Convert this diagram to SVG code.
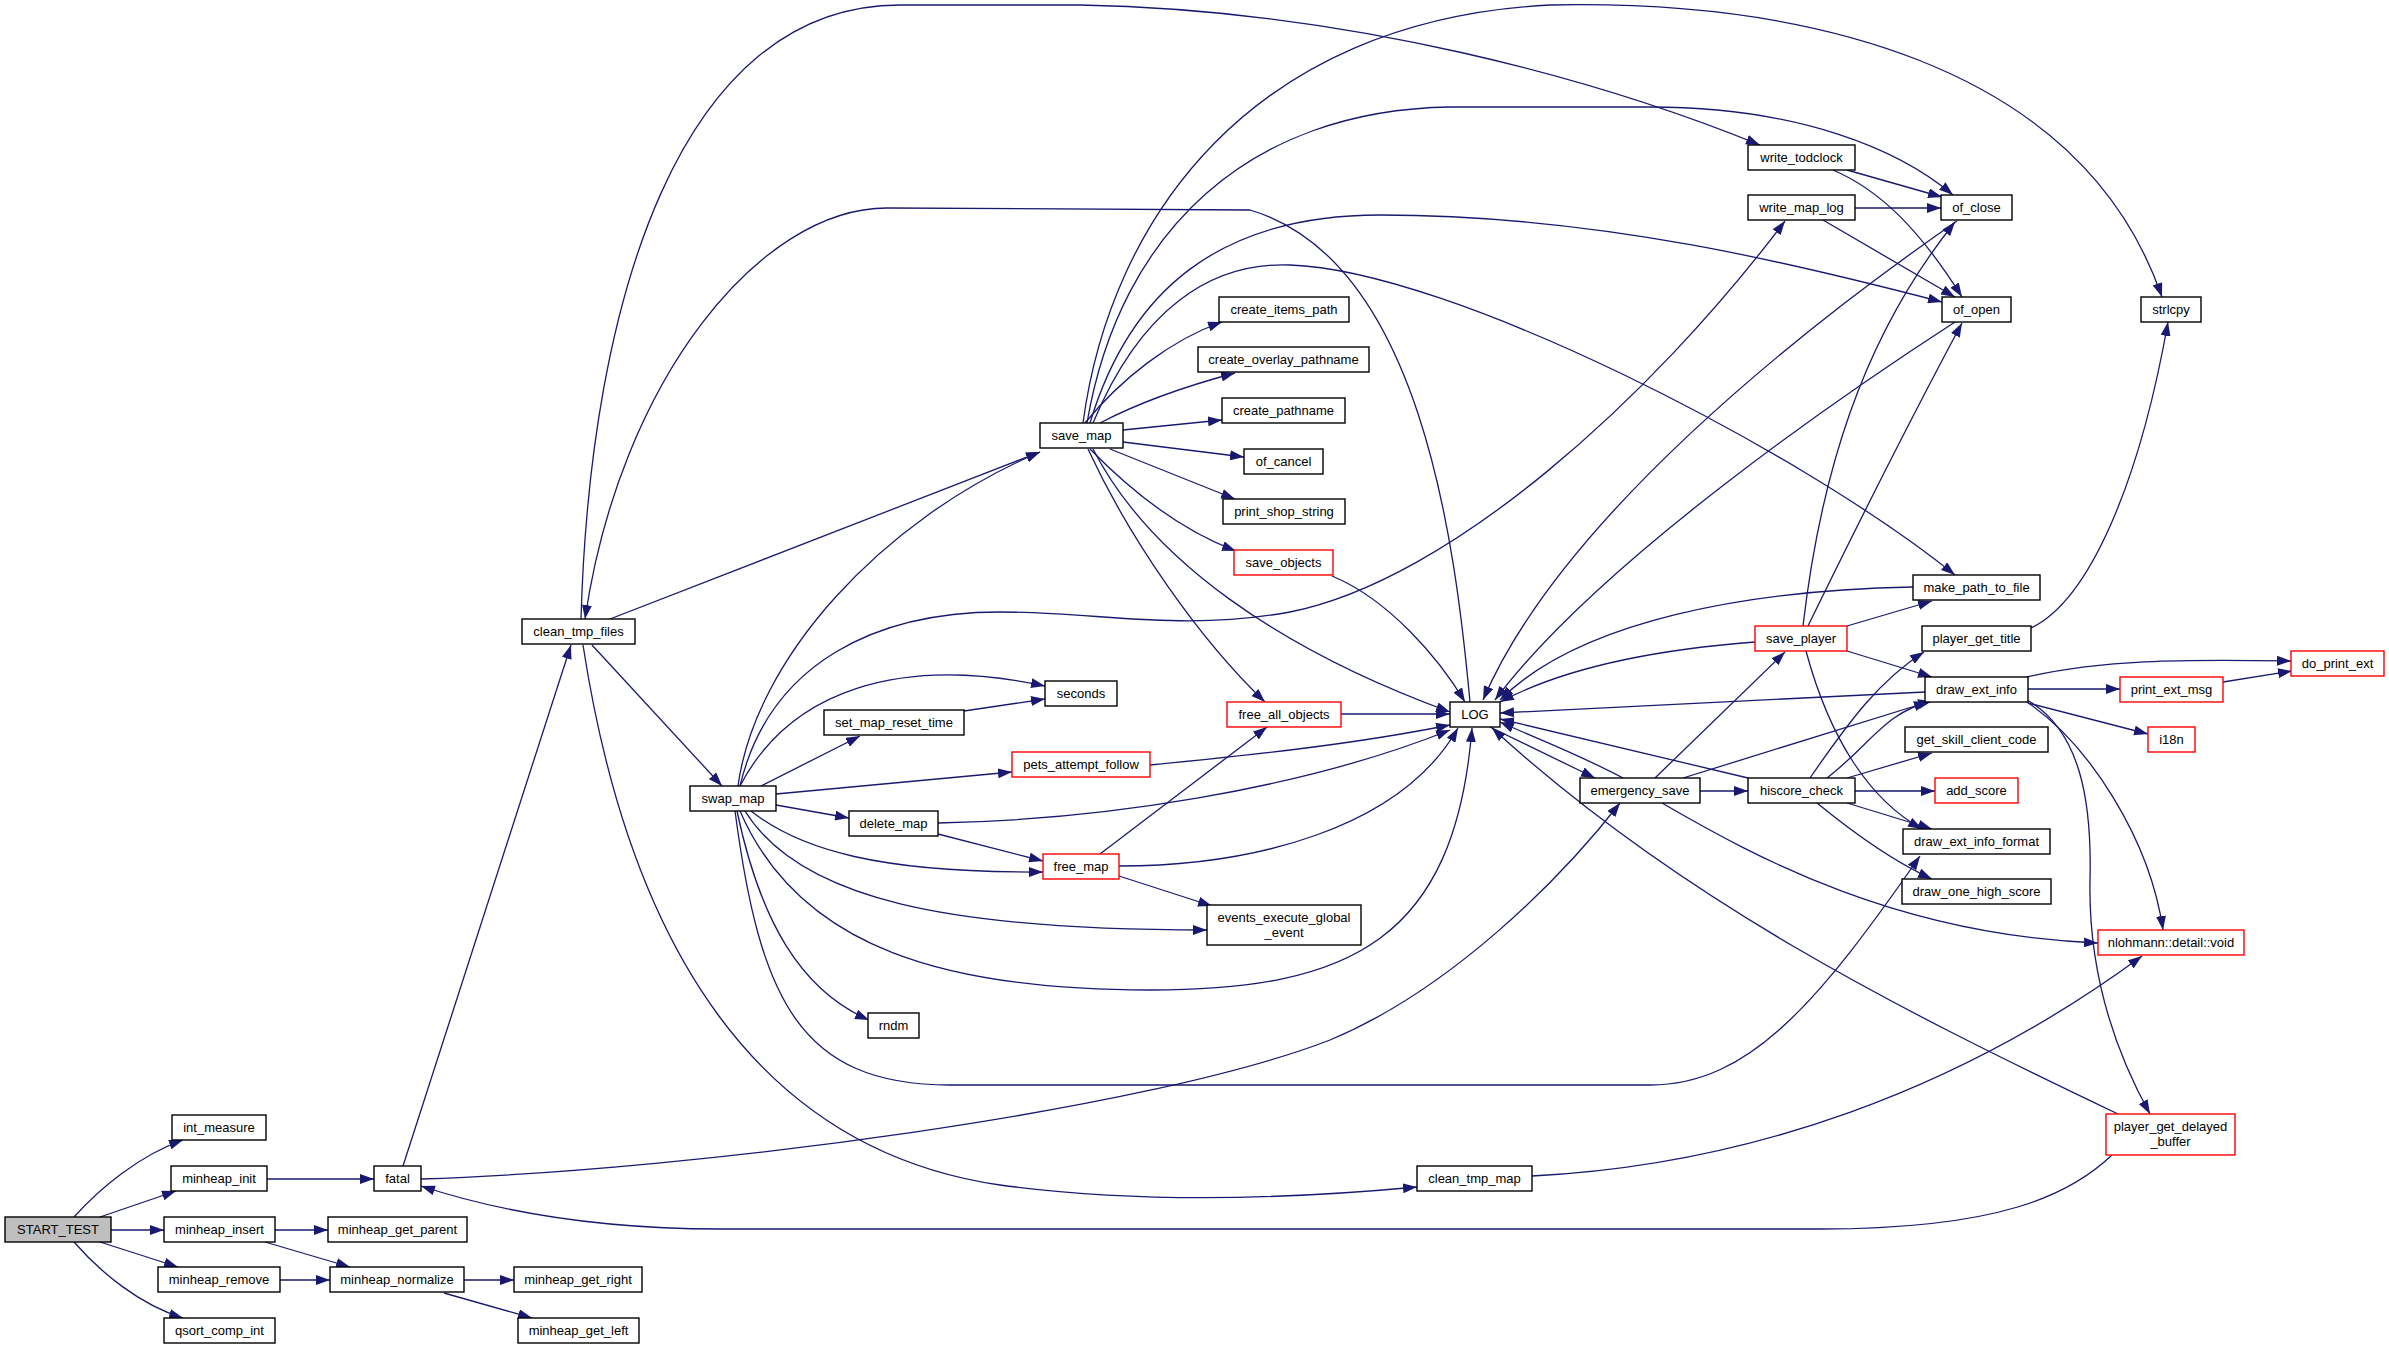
<svg xmlns="http://www.w3.org/2000/svg" width="2389" height="1349" viewBox="0 0 2389 1349">
<defs>
<marker id="ah" markerWidth="14" markerHeight="10" refX="14" refY="5" orient="auto" markerUnits="userSpaceOnUse"><path d="M0,0 L14,5 L0,10 z" fill="#191970"/></marker>
<style>
.e{fill:none;stroke:#191970;stroke-width:1.3;marker-end:url(#ah)}
.n rect{fill:#ffffff;stroke:#000000;stroke-width:1.4}
.r rect{fill:#ffffff;stroke:#ff0000;stroke-width:1.4}
.g rect{fill:#bfbfbf;stroke:#000000;stroke-width:1.4}
text{font-family:"Liberation Sans",Arial,Helvetica,sans-serif;font-size:13px;fill:#000000;text-anchor:middle}
</style>
</defs>
<rect x="0" y="0" width="2389" height="1349" fill="#ffffff"/>
<g id="edges">
<path class="e" d="M74,1217 C100,1188 140,1155 183,1140"/>
<path class="e" d="M100,1217 L176,1191"/>
<path class="e" d="M111,1230 L164,1230"/>
<path class="e" d="M100,1242 L178,1267"/>
<path class="e" d="M74,1242 C100,1272 140,1305 183,1318"/>
<path class="e" d="M267,1179 L374,1179"/>
<path class="e" d="M275,1230 L328,1230"/>
<path class="e" d="M265,1242 L350,1267"/>
<path class="e" d="M280,1280 L330,1280"/>
<path class="e" d="M464,1280 L514,1280"/>
<path class="e" d="M444,1293 L532,1318"/>
<path class="e" d="M403,1166 L571,645"/>
<path class="e" d="M421,1179 C700,1170 1150,1110 1330,1040 C1450,990 1560,880 1620,803"/>
<path class="e" d="M2112,1155 C2070,1195 2000,1229 1820,1229 L720,1229 C600,1229 500,1212 421,1186"/>
<path class="e" d="M2118,1114 C1900,1010 1680,900 1492,728"/>
<path class="e" d="M1532,1176 C1750,1165 1960,1090 2142,956"/>
<path class="e" d="M2027,700 C2080,730 2092,800 2090,880 C2088,980 2120,1060 2150,1114"/>
<path class="e" d="M2027,702 C2090,745 2150,840 2163,930"/>
<path class="e" d="M2028,703 L2148,734"/>
<path class="e" d="M2028,689 L2120,689"/>
<path class="e" d="M2027,677 C2100,660 2180,659 2291,661"/>
<path class="e" d="M2223,682 L2292,671"/>
<path class="e" d="M1925,692 C1800,697 1650,705 1500,713"/>
<path class="e" d="M2031,628 C2090,600 2140,480 2168,322"/>
<path class="e" d="M1083,423 C1110,220 1250,20 1550,5 C1800,0 2080,60 2162,297"/>
<path class="e" d="M1087,423 C1120,230 1250,110 1450,107 L1650,107 C1800,107 1900,150 1953,195"/>
<path class="e" d="M1090,423 C1130,290 1220,215 1380,215 C1600,215 1800,265 1942,302"/>
<path class="e" d="M1093,423 C1140,310 1210,262 1290,265 C1450,270 1800,450 1955,575"/>
<path class="e" d="M1470,702 C1455,540 1420,260 1250,210 L887,208 C760,208 620,380 585,619"/>
<path class="e" d="M581,619 C590,300 680,5 900,5 L1080,5 C1350,10 1600,80 1760,145"/>
<path class="e" d="M610,619 L1040,452"/>
<path class="e" d="M738,786 C755,660 880,520 1040,452"/>
<path class="e" d="M592,645 L722,786"/>
<path class="e" d="M583,645 C630,950 760,1150 1000,1185 C1150,1205 1300,1198 1417,1187"/>
<path class="e" d="M740,786 C770,660 880,612 1000,612 C1100,612 1180,632 1290,612 C1450,580 1650,400 1785,221"/>
<path class="e" d="M740,786 C790,690 900,655 1045,686"/>
<path class="e" d="M964,711 L1045,699"/>
<path class="e" d="M761,786 L860,736"/>
<path class="e" d="M776,794 L1012,772"/>
<path class="e" d="M776,805 L849,818"/>
<path class="e" d="M938,823 C1100,820 1300,790 1450,730"/>
<path class="e" d="M938,834 L1043,861"/>
<path class="e" d="M751,811 C800,850 880,873 1043,872"/>
<path class="e" d="M745,811 C800,900 950,930 1207,930"/>
<path class="e" d="M1119,876 L1212,906"/>
<path class="e" d="M740,811 C800,950 950,990 1150,990 C1350,990 1455,940 1472,728"/>
<path class="e" d="M737,811 C760,920 800,990 869,1020"/>
<path class="e" d="M735,811 C760,1000 800,1085 950,1085 L1650,1085 C1750,1085 1820,1000 1920,856"/>
<path class="e" d="M1085,423 C1120,380 1170,340 1222,322"/>
<path class="e" d="M1100,423 C1140,402 1190,385 1235,373"/>
<path class="e" d="M1123,430 L1222,420"/>
<path class="e" d="M1123,442 L1244,457"/>
<path class="e" d="M1110,449 L1235,499"/>
<path class="e" d="M1090,449 C1130,490 1180,530 1236,551"/>
<path class="e" d="M1088,449 C1130,540 1200,640 1265,702"/>
<path class="e" d="M1093,449 C1150,560 1280,650 1450,712"/>
<path class="e" d="M1332,576 C1390,600 1440,660 1465,702"/>
<path class="e" d="M1341,714 L1450,714"/>
<path class="e" d="M1100,854 L1267,727"/>
<path class="e" d="M1119,866 C1250,866 1400,830 1458,728"/>
<path class="e" d="M1150,765 C1250,755 1350,745 1450,725"/>
<path class="e" d="M1490,727 L1595,778"/>
<path class="e" d="M1623,778 C1580,755 1540,740 1500,722"/>
<path class="e" d="M1655,778 L1785,652"/>
<path class="e" d="M1700,791 L1748,791"/>
<path class="e" d="M1683,778 L1928,702"/>
<path class="e" d="M1662,803 C1760,860 1900,935 2098,943"/>
<path class="e" d="M1748,778 L1500,719"/>
<path class="e" d="M1810,778 C1850,720 1880,680 1924,652"/>
<path class="e" d="M1827,778 C1870,745 1885,712 1932,701"/>
<path class="e" d="M1847,778 L1932,753"/>
<path class="e" d="M1855,791 L1935,791"/>
<path class="e" d="M1847,803 L1932,829"/>
<path class="e" d="M1817,803 C1850,830 1890,860 1932,879"/>
<path class="e" d="M1847,626 L1932,601"/>
<path class="e" d="M1847,651 L1932,677"/>
<path class="e" d="M1755,642 C1650,650 1560,670 1500,702"/>
<path class="e" d="M1913,587 C1750,590 1580,620 1500,700"/>
<path class="e" d="M1803,626 C1820,480 1860,340 1955,222"/>
<path class="e" d="M1808,626 C1850,540 1910,420 1962,323"/>
<path class="e" d="M1806,651 C1830,740 1870,800 1922,829"/>
<path class="e" d="M1957,221 C1800,330 1560,520 1483,700"/>
<path class="e" d="M1955,322 C1850,390 1600,560 1495,700"/>
<path class="e" d="M1847,170 L1942,197"/>
<path class="e" d="M1833,170 C1880,190 1920,230 1962,297"/>
<path class="e" d="M1855,208 L1941,208"/>
<path class="e" d="M1823,220 L1955,297"/>
</g>
<g id="node-START_TEST" class="g"><rect x="5" y="1217" width="106" height="25"/><text x="58" y="1234">START_TEST</text></g>
<g id="node-int_measure" class="n"><rect x="172" y="1115" width="94" height="25"/><text x="219" y="1132">int_measure</text></g>
<g id="node-minheap_init" class="n"><rect x="171" y="1166" width="96" height="25"/><text x="219" y="1183">minheap_init</text></g>
<g id="node-fatal" class="n"><rect x="374" y="1166" width="47" height="25"/><text x="397.5" y="1183">fatal</text></g>
<g id="node-minheap_insert" class="n"><rect x="164" y="1217" width="111" height="25"/><text x="219.5" y="1234">minheap_insert</text></g>
<g id="node-minheap_get_parent" class="n"><rect x="328" y="1217" width="139" height="25"/><text x="397.5" y="1234">minheap_get_parent</text></g>
<g id="node-minheap_remove" class="n"><rect x="158" y="1267" width="122" height="25"/><text x="219" y="1284">minheap_remove</text></g>
<g id="node-minheap_normalize" class="n"><rect x="330" y="1267" width="134" height="25"/><text x="397" y="1284">minheap_normalize</text></g>
<g id="node-minheap_get_right" class="n"><rect x="514" y="1267" width="128" height="25"/><text x="578" y="1284">minheap_get_right</text></g>
<g id="node-qsort_comp_int" class="n"><rect x="164" y="1318" width="111" height="25"/><text x="219.5" y="1335">qsort_comp_int</text></g>
<g id="node-minheap_get_left" class="n"><rect x="518" y="1318" width="121" height="25"/><text x="578.5" y="1335">minheap_get_left</text></g>
<g id="node-clean_tmp_files" class="n"><rect x="522" y="619" width="113" height="25"/><text x="578.5" y="636">clean_tmp_files</text></g>
<g id="node-swap_map" class="n"><rect x="690" y="786" width="86" height="25"/><text x="733" y="803">swap_map</text></g>
<g id="node-seconds" class="n"><rect x="1045" y="681" width="72" height="25"/><text x="1081" y="698">seconds</text></g>
<g id="node-set_map_reset_time" class="n"><rect x="824" y="710" width="140" height="25"/><text x="894" y="727">set_map_reset_time</text></g>
<g id="node-pets_attempt_follow" class="r"><rect x="1012" y="752" width="138" height="25"/><text x="1081" y="769">pets_attempt_follow</text></g>
<g id="node-delete_map" class="n"><rect x="849" y="811" width="89" height="25"/><text x="893.5" y="828">delete_map</text></g>
<g id="node-free_map" class="r"><rect x="1043" y="854" width="76" height="25"/><text x="1081" y="871">free_map</text></g>
<g id="node-rndm" class="n"><rect x="868" y="1013" width="51" height="25"/><text x="893.5" y="1030">rndm</text></g>
<g id="node-save_map" class="n"><rect x="1040" y="423" width="83" height="25"/><text x="1081.5" y="440">save_map</text></g>
<g id="node-create_items_path" class="n"><rect x="1219" y="297" width="130" height="25"/><text x="1284" y="314">create_items_path</text></g>
<g id="node-create_overlay_pathname" class="n"><rect x="1198" y="347" width="171" height="25"/><text x="1283.5" y="364">create_overlay_pathname</text></g>
<g id="node-create_pathname" class="n"><rect x="1222" y="398" width="123" height="25"/><text x="1283.5" y="415">create_pathname</text></g>
<g id="node-of_cancel" class="n"><rect x="1244" y="449" width="79" height="25"/><text x="1283.5" y="466">of_cancel</text></g>
<g id="node-print_shop_string" class="n"><rect x="1223" y="499" width="122" height="25"/><text x="1284" y="516">print_shop_string</text></g>
<g id="node-save_objects" class="r"><rect x="1234" y="550" width="99" height="25"/><text x="1283.5" y="567">save_objects</text></g>
<g id="node-free_all_objects" class="r"><rect x="1227" y="702" width="114" height="25"/><text x="1284" y="719">free_all_objects</text></g>
<g id="node-LOG" class="n"><rect x="1450" y="702" width="50" height="25"/><text x="1475" y="719">LOG</text></g>
<g id="node-events_execute_global_event" class="n"><rect x="1207" y="905" width="154" height="40"/><text x="1284" y="922">events_execute_global</text><text x="1284" y="937">_event</text></g>
<g id="node-emergency_save" class="n"><rect x="1580" y="778" width="120" height="25"/><text x="1640" y="795">emergency_save</text></g>
<g id="node-write_todclock" class="n"><rect x="1748" y="145" width="107" height="25"/><text x="1801.5" y="162">write_todclock</text></g>
<g id="node-write_map_log" class="n"><rect x="1748" y="195" width="107" height="25"/><text x="1801.5" y="212">write_map_log</text></g>
<g id="node-of_close" class="n"><rect x="1941" y="195" width="71" height="25"/><text x="1976.5" y="212">of_close</text></g>
<g id="node-of_open" class="n"><rect x="1942" y="297" width="69" height="25"/><text x="1976.5" y="314">of_open</text></g>
<g id="node-strlcpy" class="n"><rect x="2141" y="297" width="60" height="25"/><text x="2171" y="314">strlcpy</text></g>
<g id="node-make_path_to_file" class="n"><rect x="1913" y="575" width="127" height="25"/><text x="1976.5" y="592">make_path_to_file</text></g>
<g id="node-save_player" class="r"><rect x="1755" y="626" width="92" height="25"/><text x="1801" y="643">save_player</text></g>
<g id="node-player_get_title" class="n"><rect x="1922" y="626" width="109" height="25"/><text x="1976.5" y="643">player_get_title</text></g>
<g id="node-draw_ext_info" class="n"><rect x="1925" y="677" width="103" height="25"/><text x="1976.5" y="694">draw_ext_info</text></g>
<g id="node-print_ext_msg" class="r"><rect x="2120" y="677" width="103" height="25"/><text x="2171.5" y="694">print_ext_msg</text></g>
<g id="node-do_print_ext" class="r"><rect x="2291" y="651" width="93" height="25"/><text x="2337.5" y="668">do_print_ext</text></g>
<g id="node-i18n" class="r"><rect x="2148" y="727" width="47" height="25"/><text x="2171.5" y="744">i18n</text></g>
<g id="node-get_skill_client_code" class="n"><rect x="1905" y="727" width="143" height="25"/><text x="1976.5" y="744">get_skill_client_code</text></g>
<g id="node-hiscore_check" class="n"><rect x="1748" y="778" width="107" height="25"/><text x="1801.5" y="795">hiscore_check</text></g>
<g id="node-add_score" class="r"><rect x="1935" y="778" width="83" height="25"/><text x="1976.5" y="795">add_score</text></g>
<g id="node-draw_ext_info_format" class="n"><rect x="1903" y="829" width="147" height="25"/><text x="1976.5" y="846">draw_ext_info_format</text></g>
<g id="node-draw_one_high_score" class="n"><rect x="1902" y="879" width="149" height="25"/><text x="1976.5" y="896">draw_one_high_score</text></g>
<g id="node-nlohmann_detail_void" class="r"><rect x="2098" y="930" width="146" height="25"/><text x="2171" y="947">nlohmann::detail::void</text></g>
<g id="node-player_get_delayed_buffer" class="r"><rect x="2106" y="1114" width="129" height="41"/><text x="2170.5" y="1131">player_get_delayed</text><text x="2170.5" y="1146">_buffer</text></g>
<g id="node-clean_tmp_map" class="n"><rect x="1417" y="1166" width="115" height="25"/><text x="1474.5" y="1183">clean_tmp_map</text></g>
</svg>
